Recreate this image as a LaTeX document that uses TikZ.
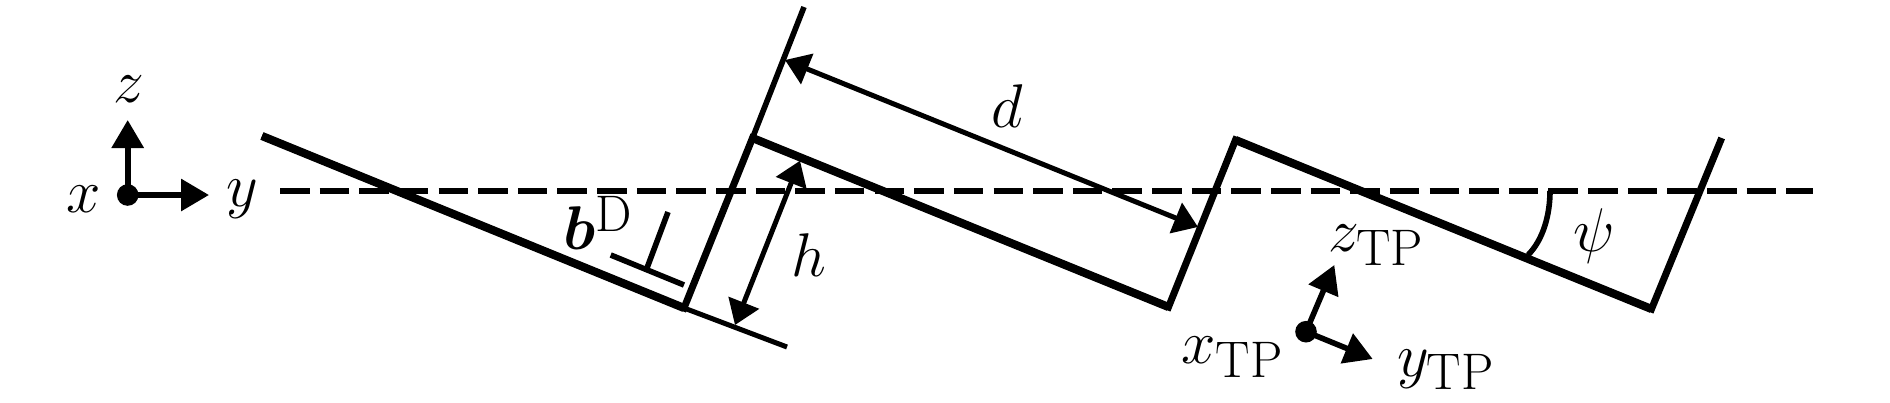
\documentclass[tikz,border=0pt]{standalone}
\usepackage{amsmath}
\usetikzlibrary{arrows.meta}
\tikzset{
  cornerline/.style={line width=3.5pt,line join=miter,miter limit=10},
  thickline/.style={line width=4.1pt},
  midline/.style={line width=2.8pt},
  thinline/.style={line width=2.5pt},
  bigarrow/.style={line width=2.8pt,-{Triangle[length=14pt,width=15.6pt]}},
  dimarrow/.style={line width=2.5pt,{Triangle[length=12pt,width=16pt]}-{Triangle[length=12pt,width=16pt]}},
  dashline/.style={line width=2.8pt,dash pattern=on 14.75pt off 5.07pt},
  lab/.style={inner sep=0pt,anchor=base west,scale=1.24,font=\fontsize{24.88}{30}\selectfont},
  dot/.style={circle,fill=black,inner sep=0pt,minimum size=10.8pt}
}
\begin{document}
\begin{tikzpicture}[x=0.5pt,y=-0.5pt]
\useasboundingbox (0,0) rectangle (1890,402);
% axis
\coordinate (dl) at (280,191);
\coordinate (dr) at (1813,191);
\draw[dashline] (dl) -- (dr);
% corrugation
\coordinate (a0) at (262,136);
\coordinate (a1) at (684,308);
\coordinate (a1e) at (787,347);
\coordinate (atop) at (804,7);
\coordinate (a2) at (752.5,138);
\coordinate (a3) at (1168.5,307);
\coordinate (a4) at (1235.5,140);
\coordinate (a5) at (1651.5,309);
\coordinate (a6) at (1721.7,138);
\draw[thinline] (a1) -- (a1e);
\draw[midline] (a2) -- (atop);
\draw[cornerline] (a0) -- (a1) -- (a2) -- (a3) -- (a4) -- (a5) -- (a6);
\draw[thickline] (a0) -- (a1);
\draw[thickline] (a2) -- (a3);
\draw[thickline] (a4) -- (a5);
% Burgers symbol
\coordinate (b1) at (610.7,255);
\coordinate (b2) at (684,285);
\coordinate (b3) at (668,212);
\coordinate (b4) at (647,268);
\draw[midline] (b1) -- (b2);
\draw[midline] (b3) -- (b4);
\node[lab] (lb) at (563,249.3) {$\boldsymbol{b}$\raisebox{7.1pt}{$\scriptstyle\mathrm{D}$}};
% dimensions
\coordinate (d1) at (785,60);
\coordinate (d2) at (1198,227);
\draw[dimarrow] (d1) -- (d2);
\node[lab] (ld) at (991,127) {$d$};
\coordinate (h1) at (800,160.7);
\coordinate (h2) at (735,325);
\draw[dimarrow] (h1) -- (h2);
\node[lab] (lh) at (791,276.7) {$h$};
% psi
\coordinate (p1) at (1550,191);
\coordinate (p2) at (1528,255);
\draw[midline] (p1) .. controls (1550,215) and (1543,240) .. (p2);
\node[lab] (lp) at (1573,251.7) {$\psi$};
% global axes
\node[dot] (o) at (127.7,195) {};
\coordinate (zt) at (127.7,120);
\coordinate (yt) at (209,195);
\draw[bigarrow] (o.center) -- (zt);
\draw[bigarrow] (o.center) -- (yt);
\node[lab] (lz) at (113,102) {$z$};
\node[lab] (lx) at (66,212) {$x$};
\node[lab] (ly) at (225.7,206) {$y$};
% tilted axes
\node[dot] (q) at (1306,331.7) {};
\coordinate (zq) at (1334.3,265);
\coordinate (yq) at (1372.7,359);
\draw[bigarrow] (q.center) -- (zq);
\draw[bigarrow] (q.center) -- (yq);
\node[lab] (lzq) at (1328,251.7) {$z_{\mathrm{TP}}$};
\node[lab] (lxq) at (1181,363.3) {$x_{\mathrm{TP}}$};
\node[lab] (lyq) at (1397,376) {$y_{\mathrm{TP}}$};
\end{tikzpicture}
\end{document}
